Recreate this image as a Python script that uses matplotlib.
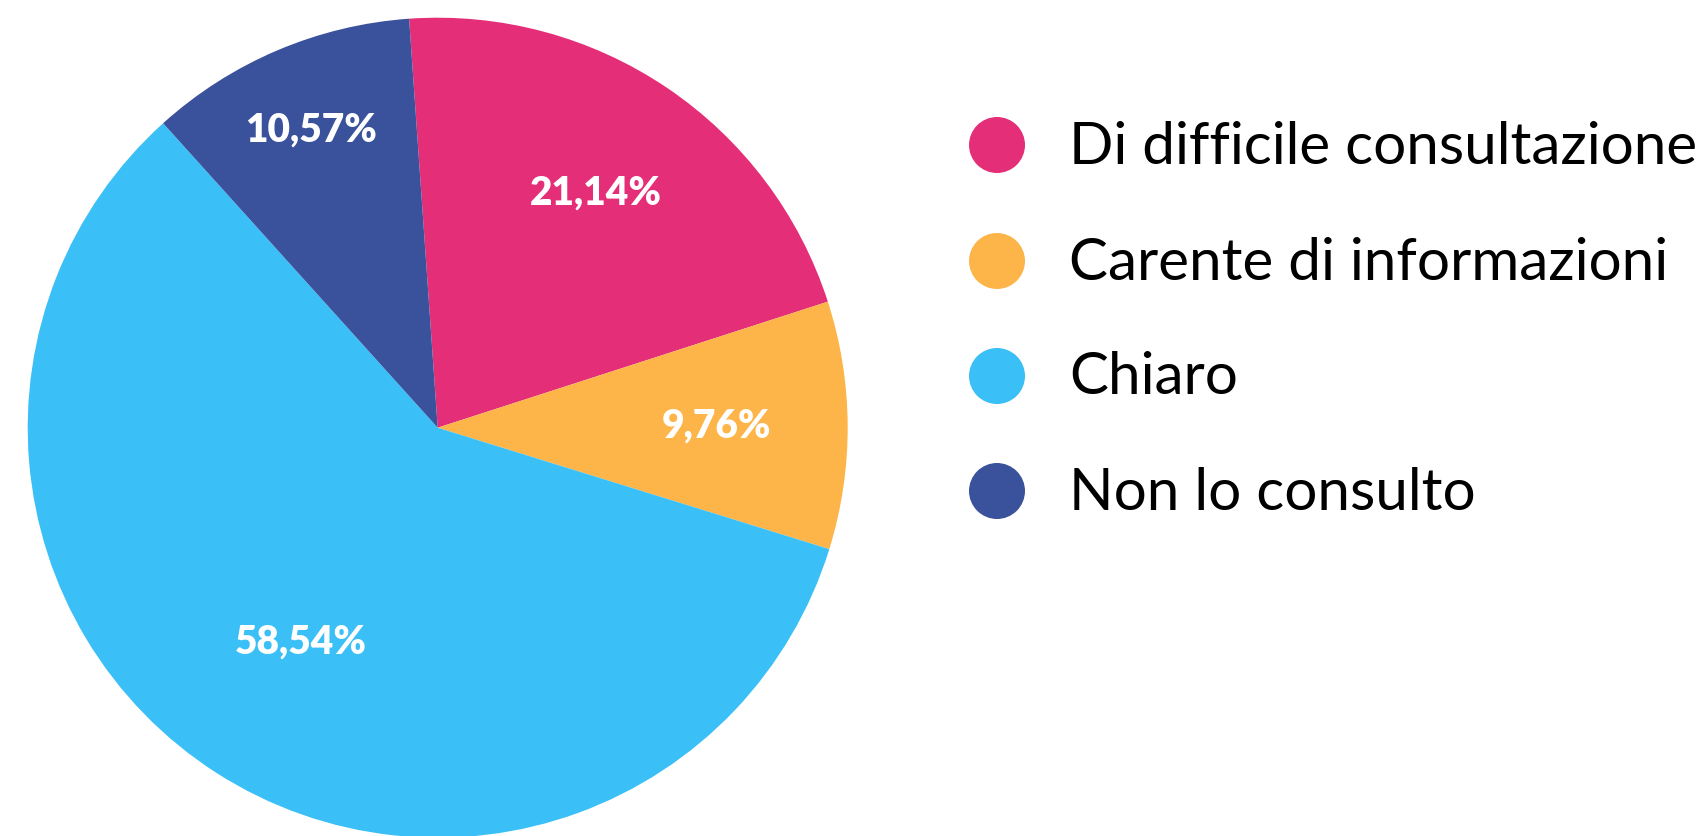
import numpy as np
import matplotlib.pyplot as plt
from matplotlib.patches import Ellipse

# data
categories = ["Di difficile consultazione", "Carente di informazioni", "Chiaro", "Non lo consulto"]
values = [21.14, 9.76, 58.54, 10.57]
labels = ["21,14%", "9,76%", "58,54%", "10,57%"]
colors = ["#E52E78", "#FDB54A", "#3BBFF7", "#3A519C"]
label_dist = [0.69, 0.68, 0.62, 0.79]

W, H = 1705, 836
fig = plt.figure(figsize=(W / 100, H / 100), dpi=100)

# pie axes: center (437.7, 427.7) px, radius 410 px
cx, cy, r = 437.7, 427.7, 410
ax = fig.add_axes([(cx - r) / W, (H - cy - r) / H, 2 * r / W, 2 * r / H])
wedges, _ = ax.pie(values, colors=colors, startangle=94.0, counterclock=False,
                   radius=1.0, wedgeprops=dict(linewidth=0))
ax.set_xlim(-1, 1)
ax.set_ylim(-1, 1)
ax.set_aspect("equal")
ax.axis("off")

for w, lab, d in zip(wedges, labels, label_dist):
    ang = np.deg2rad((w.theta1 + w.theta2) / 2)
    ax.text(d * np.cos(ang), d * np.sin(ang), lab, color="white",
            fontsize=28, fontweight="heavy", family="Lato",
            ha="center", va="center")

# legend drawn in figure pixel coords
lax = fig.add_axes([0, 0, 1, 1])
lax.set_xlim(0, W)
lax.set_ylim(H, 0)
lax.axis("off")
row_y = [145, 261, 376, 491]
for yy, cat, col in zip(row_y, categories, colors):
    lax.add_patch(Ellipse((997, yy), 56, 56, color=col, lw=0))
    lax.text(1069, yy + 2, cat, fontsize=42, family="Lato", color="black",
             ha="left", va="center")

fig.savefig("out.png", dpi=100)
